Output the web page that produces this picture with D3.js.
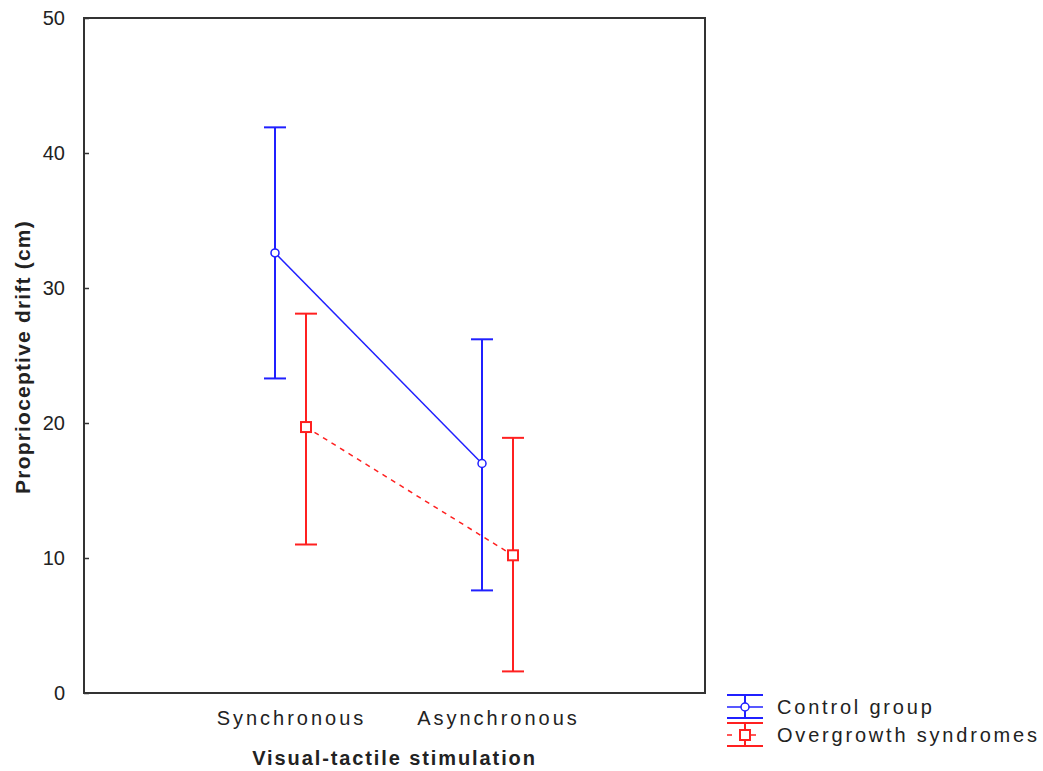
<!DOCTYPE html>
<html>
<head>
<meta charset="utf-8">
<script src="https://cdn.jsdelivr.net/npm/d3@7"></script>
<style>
  body { margin: 0; background: #fff; }
  text { font-family: "Liberation Sans", Arial, sans-serif; fill: #222; }
</style>
</head>
<body>
<svg id="chart" width="1043" height="771"></svg>
<script>
const categories = ['Synchronous', 'Asynchronous']
const groups = ['Control group', 'Overgrowth syndromes']
const controlMean = [32.6, 17.0]
const controlUpper = [41.9, 26.2]
const controlLower = [23.3, 7.6]
const overMean = [19.7, 10.2]
const overUpper = [28.1, 18.9]
const overLower = [11.0, 1.6]
const yTicks = [0, 10, 20, 30, 40, 50]

const svg = d3.select('#chart')
const margin = {left: 84, top: 18, right: 705, bottom: 693}

const x = d3.scalePoint().domain(categories).range([margin.left, margin.right]).padding(1)
const y = d3.scaleLinear().domain([0, 50]).range([margin.bottom, margin.top])

const series = [
    {name: groups[0], color: '#2020ff', mean: controlMean, up: controlUpper, lo: controlLower, off: -16, dash: null, marker: 'circle'},
    {name: groups[1], color: '#ff2020', mean: overMean, up: overUpper, lo: overLower, off: 15, dash: '5,5', marker: 'square'}
]

// frame
svg.append('rect')
    .attr('x', margin.left).attr('y', margin.top)
    .attr('width', margin.right - margin.left)
    .attr('height', margin.bottom - margin.top)
    .attr('fill', 'none').attr('stroke', '#333').attr('stroke-width', 2)

// y axis: small inward ticks, labels outside
const yAxis = svg.append('g')
    .attr('transform', `translate(${margin.left},0)`)
    .call(d3.axisLeft(y).tickValues(yTicks).tickSize(-5).tickPadding(19))
yAxis.select('.domain').remove()
yAxis.selectAll('line').attr('stroke', '#333').attr('stroke-width', 1.5)
yAxis.selectAll('text')
    .style('font-size', '20px')
    .style('font-family', '"Liberation Sans", Arial, sans-serif')
    .attr('fill', '#333')

// x axis labels
const xAxis = svg.append('g')
    .attr('transform', `translate(0,${margin.bottom})`)
    .call(d3.axisBottom(x).tickSize(0).tickPadding(18))
xAxis.select('.domain').remove()
xAxis.selectAll('text')
    .style('font-size', '20px')
    .style('letter-spacing', '3px')
    .style('font-family', '"Liberation Sans", Arial, sans-serif')
    .attr('fill', '#222')

svg.append('text')
    .attr('x', (margin.left + margin.right) / 2)
    .attr('y', 765)
    .attr('text-anchor', 'middle')
    .style('font-size', '20px')
    .style('font-weight', 'bold')
    .style('letter-spacing', '1.9px')
    .text('Visual-tactile stimulation')

svg.append('text')
    .attr('transform', `translate(30,357) rotate(-90)`)
    .attr('text-anchor', 'middle')
    .style('font-size', '21px')
    .style('font-weight', 'bold')
    .style('letter-spacing', '1.2px')
    .text('Proprioceptive drift (cm)')

const capW = 11
series.forEach(s => {
    const g = svg.append('g')
    const px = i => x(categories[i]) + s.off
    // connecting line
    const line = d3.line().x((d, i) => px(i)).y(d => y(d))
    g.append('path')
        .datum(s.mean)
        .attr('d', line)
        .attr('fill', 'none')
        .attr('stroke', s.color)
        .attr('stroke-width', 1.5)
        .attr('stroke-dasharray', s.dash)
    // error bars
    categories.forEach((c, i) => {
        g.append('line')
            .attr('x1', px(i)).attr('x2', px(i))
            .attr('y1', y(s.up[i])).attr('y2', y(s.lo[i]))
            .attr('stroke', s.color).attr('stroke-width', 2)
        ;[s.up[i], s.lo[i]].forEach(v => {
            g.append('line')
                .attr('x1', px(i) - capW).attr('x2', px(i) + capW)
                .attr('y1', y(v)).attr('y2', y(v))
                .attr('stroke', s.color).attr('stroke-width', 2)
        })
        if (s.marker === 'circle') {
            g.append('circle')
                .attr('cx', px(i)).attr('cy', y(s.mean[i])).attr('r', 4)
                .attr('fill', '#fff').attr('stroke', s.color).attr('stroke-width', 1.5)
        } else {
            g.append('rect')
                .attr('x', px(i) - 5).attr('y', y(s.mean[i]) - 5)
                .attr('width', 10).attr('height', 10)
                .attr('fill', '#fff').attr('stroke', s.color).attr('stroke-width', 2)
        }
    })
})

// legend
const legend = svg.append('g').attr('transform', 'translate(727,0)')
const legendY = [707, 735]
series.forEach((s, i) => {
    const cy = legendY[i]
    const lg = legend.append('g')
    lg.append('line').attr('x1', 0).attr('x2', 36).attr('y1', cy - 12).attr('y2', cy - 12)
        .attr('stroke', s.color).attr('stroke-width', 2)
    lg.append('line').attr('x1', 0).attr('x2', 36).attr('y1', cy + 11).attr('y2', cy + 11)
        .attr('stroke', s.color).attr('stroke-width', 2)
    lg.append('line').attr('x1', 18).attr('x2', 18).attr('y1', cy - 12).attr('y2', cy + 11)
        .attr('stroke', s.color).attr('stroke-width', 2)
    lg.append('line').attr('x1', 0).attr('x2', 36).attr('y1', cy).attr('y2', cy)
        .attr('stroke', s.color).attr('stroke-width', 1.5)
        .attr('stroke-dasharray', s.dash ? '5,7' : null)
    if (s.marker === 'circle') {
        lg.append('circle').attr('cx', 18).attr('cy', cy).attr('r', 4)
            .attr('fill', '#fff').attr('stroke', s.color).attr('stroke-width', 1.5)
    } else {
        lg.append('rect').attr('x', 13).attr('y', cy - 5).attr('width', 10).attr('height', 10)
            .attr('fill', '#fff').attr('stroke', s.color).attr('stroke-width', 2)
    }
    lg.append('text')
        .attr('x', 50).attr('y', cy + 7)
        .style('font-size', '20px')
        .style('letter-spacing', '2.8px')
        .text(s.name)
})
</script>
</body>
</html>
